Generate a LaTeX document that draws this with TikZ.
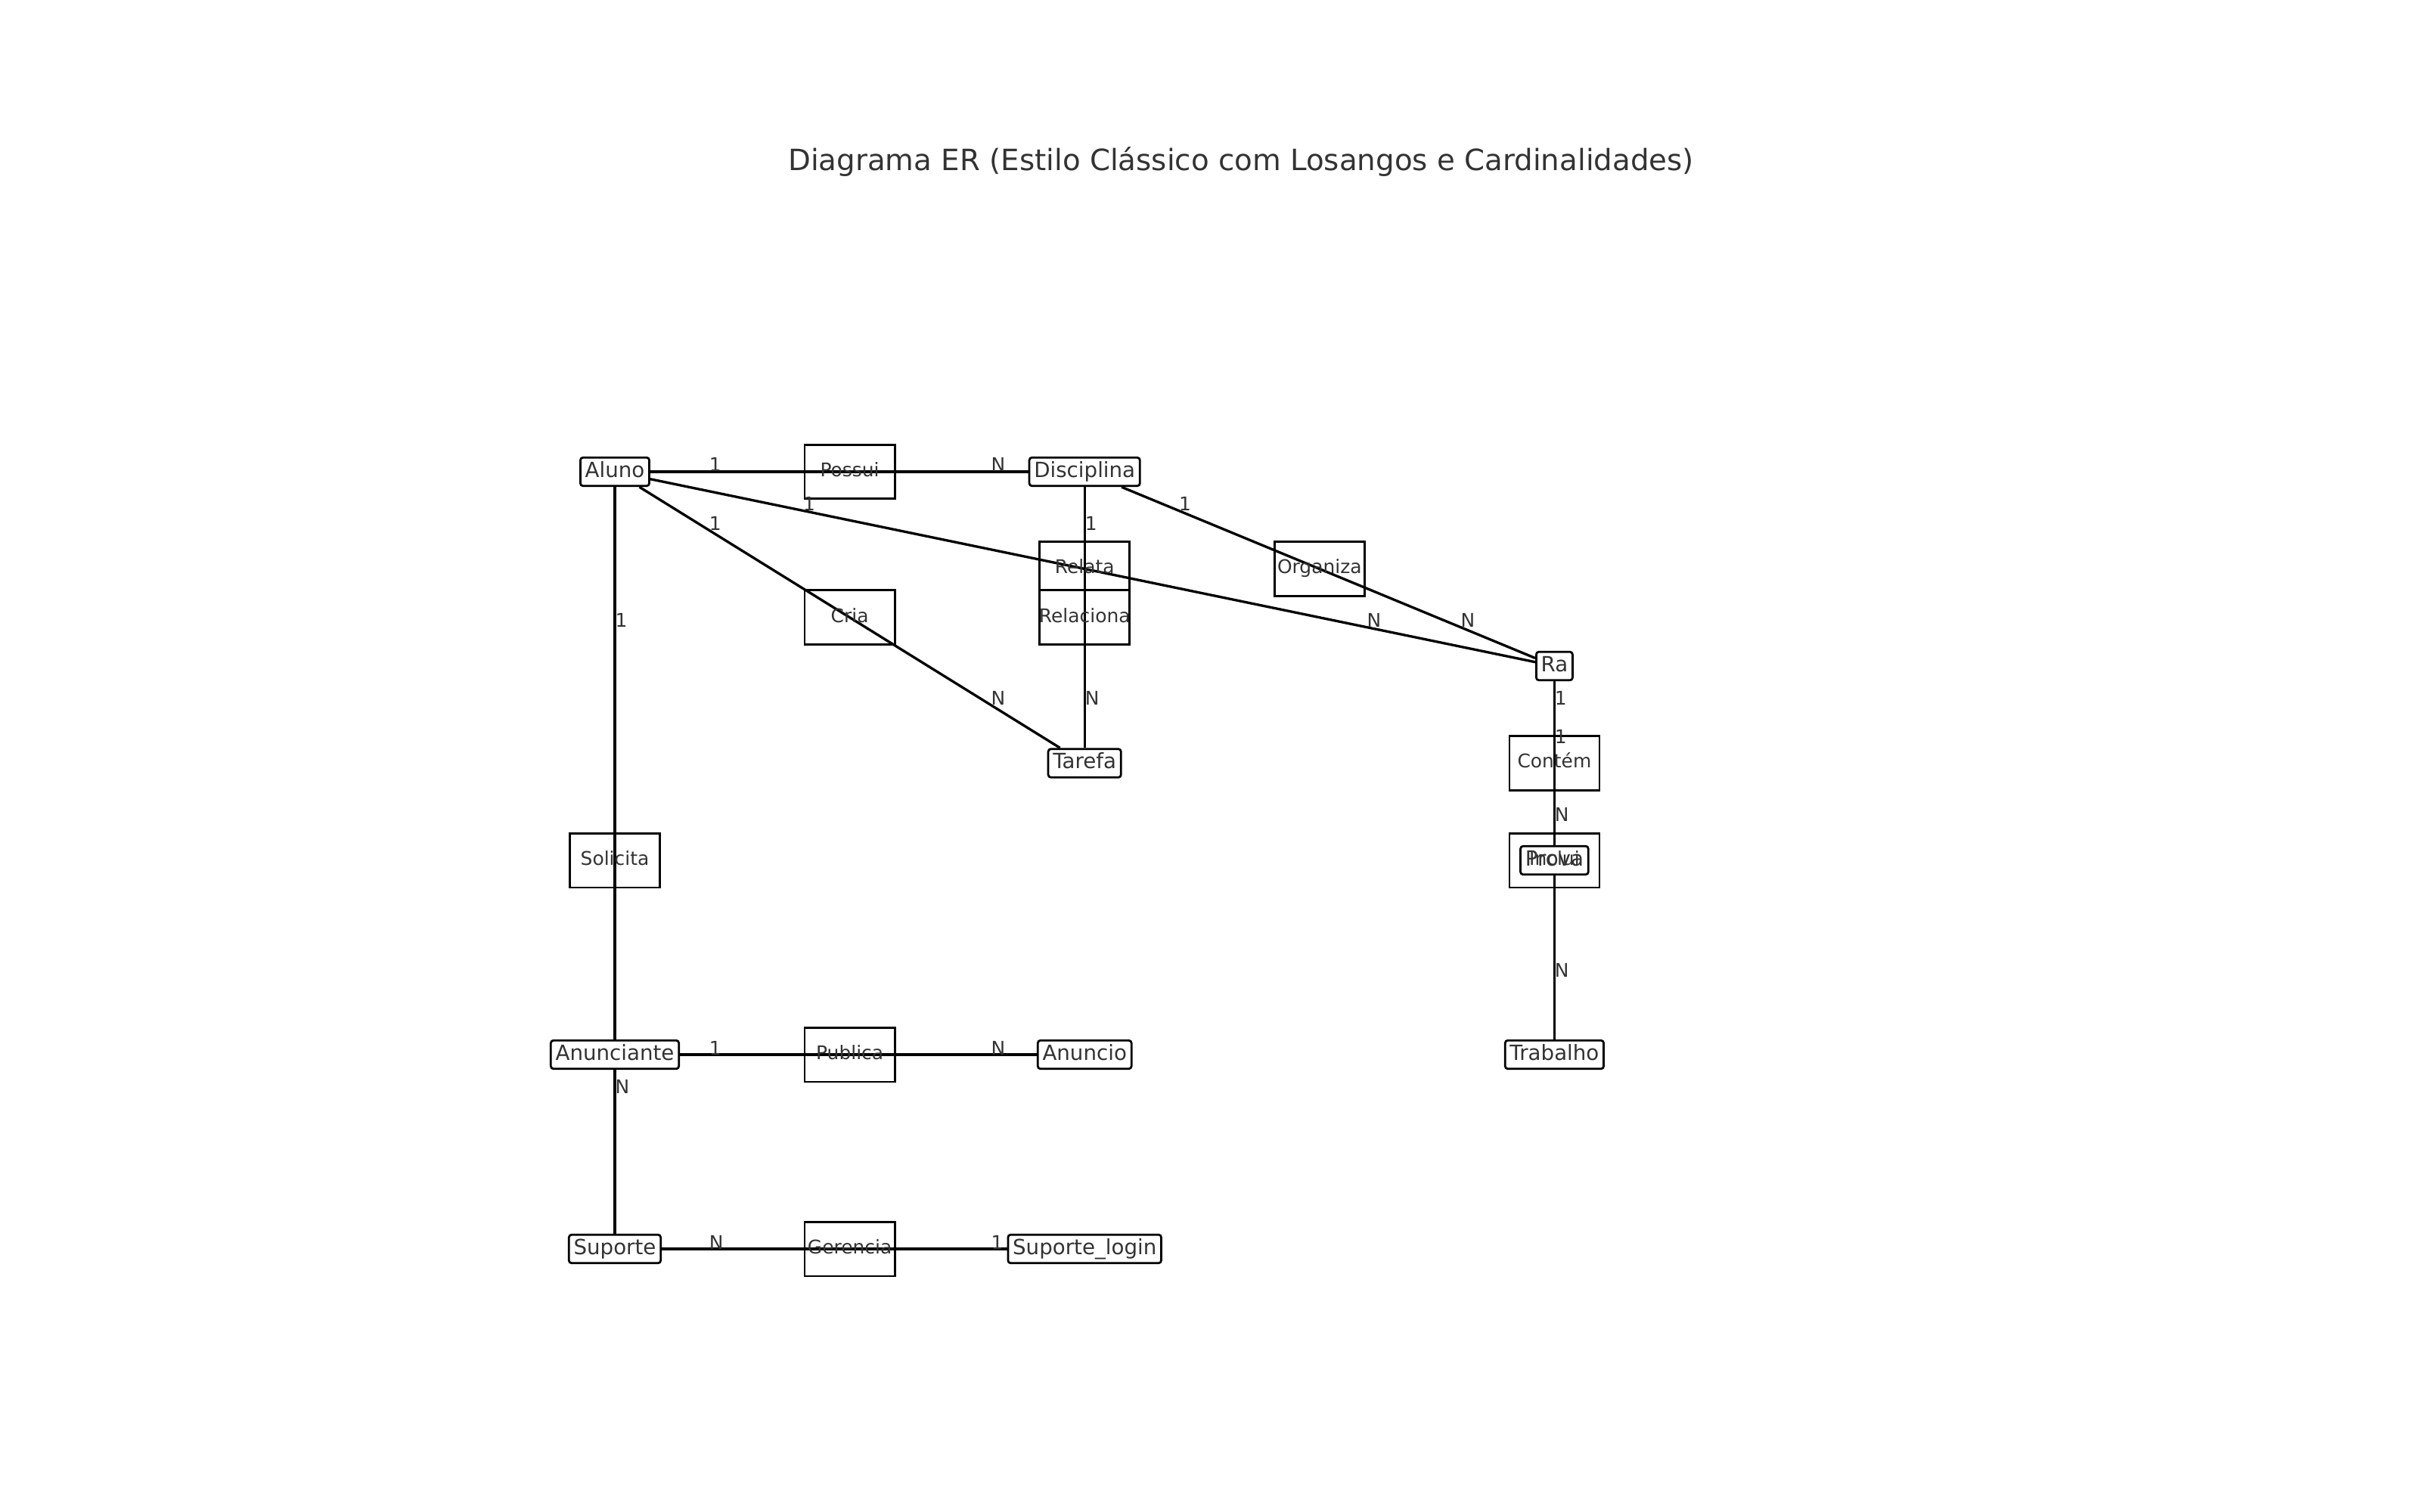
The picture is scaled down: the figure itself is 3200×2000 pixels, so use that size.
\documentclass[tikz,border=0pt]{standalone}
\usepackage{fontspec}
\setmainfont{DejaVu Sans}
\usetikzlibrary{calc,backgrounds}
\definecolor{txt}{HTML}{333333}
\pgfdeclarelayer{rects}
\pgfsetlayers{rects,background,main}
\begin{document}
\begin{tikzpicture}[x=0.0127cm,y=-0.0127cm,
  entity/.style={draw=black, line width=1pt, fill=white, rounded corners=1.3pt, text=txt,
    font=\fontsize{10}{12}\selectfont, inner xsep=2.25pt, inner ysep=0pt,
    minimum height=13.6pt, text height=7.6pt, text depth=2.4pt},
  relbox/.style={draw=black, fill=white, line width=1pt, minimum width=1.511cm, minimum height=0.911cm, inner sep=0pt},
  reltext/.style={text=txt, font=\fontsize{9}{11}\selectfont, inner sep=0pt, text height=6.84pt, text depth=2.16pt},
  card/.style={text=txt, font=\fontsize{9}{11}\selectfont, inner sep=0pt, anchor=base west},
  link/.style={line width=1.2pt, draw=black},
  titletext/.style={text=txt, font=\fontsize{14}{17}\selectfont, inner sep=0pt}]
\useasboundingbox (0,0) rectangle (3200,2000);
\node[titletext, anchor=base] (title) at (1641,226) {Diagrama ER (Estilo Clássico com Losangos e Cardinalidades)};
% entities
\node[entity] (aluno) at (813,624) {Aluno};
\node[entity] (disciplina) at (1434.2,624) {Disciplina};
\node[entity] (ra) at (2055.4,881) {Ra};
\node[entity] (tarefa) at (1434.2,1009.5) {Tarefa};
\node[entity] (prova) at (2055.4,1138) {Prova};
\node[entity] (anunciante) at (813,1395) {Anunciante};
\node[entity] (anuncio) at (1434.2,1395) {Anuncio};
\node[entity] (trabalho) at (2055.4,1395) {Trabalho};
\node[entity] (suporte) at (813,1652) {Suporte};
\node[entity] (suportelogin) at (1434.2,1652) {Suporte\_login};
% relationships
\foreach \e/\f/\r/\lbl/\ca/\cb in {
  aluno/disciplina/possui/Possui/1/N,
  aluno/ra/relata/Relata/1/N,
  aluno/tarefa/cria/Cria/1/N,
  disciplina/tarefa/relaciona/Relaciona/1/N,
  disciplina/ra/organiza/Organiza/1/N,
  ra/prova/contem/Contém/1/N,
  ra/trabalho/inclui/Inclui/1/N,
  aluno/suporte/solicita/Solicita/1/N,
  anunciante/anuncio/publica/Publica/1/N,
  suporte/suportelogin/gerencia/Gerencia/N/1}{
  \begin{pgfonlayer}{rects}
    \node[relbox] (\r box) at ($(\e.center)!0.5!(\f.center)$) {};
  \end{pgfonlayer}
  \begin{pgfonlayer}{background}
    \draw[link] (\e) -- (\f);
  \end{pgfonlayer}
  \node[reltext] (\r text) at (\r box.center) {\lbl};
  \node[card] (\r ca) at ($(\e.center)!0.2!(\f.center)$) {\ca};
  \node[card] (\r cb) at ($(\e.center)!0.8!(\f.center)$) {\cb};
}
\end{tikzpicture}
\end{document}
